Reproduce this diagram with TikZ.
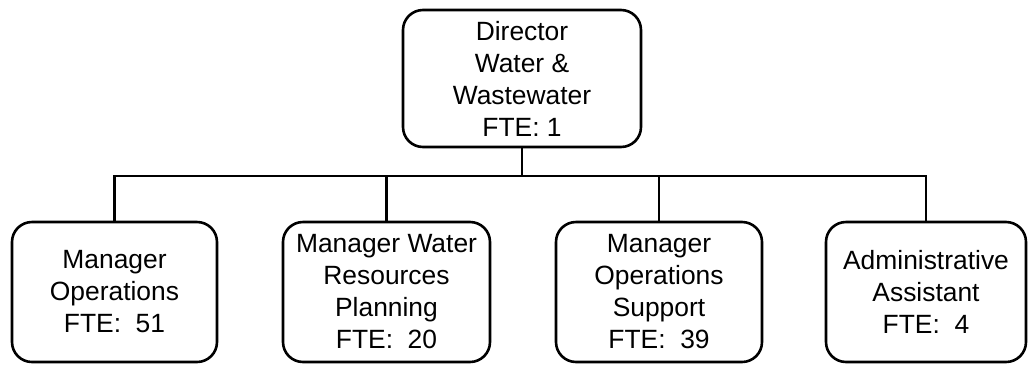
\documentclass[tikz,border=0pt]{standalone}
\usepackage{fontspec}
\setmainfont{Liberation Sans}
\begin{document}
\begin{tikzpicture}[x=1pt,y=-1pt,
  orgbox/.style={draw=black, line width=2.6pt, rounded corners=20pt, align=center,
    font=\fontsize{26.4}{32}\selectfont, inner sep=0pt, minimum height=140pt},
  conn/.style={draw=black, line width=2.6pt}]
\useasboundingbox (0,0) rectangle (1028,365);
\node[orgbox, minimum width=238pt, minimum height=137pt] (dir) at (522,78.5) {Director\\Water \&\\Wastewater\\FTE: 1};
\node[orgbox, minimum width=205pt] (b1) at (114.5,292) {Manager\\Operations\\FTE:\ \ 51};
\node[orgbox, minimum width=207pt] (b2) at (386.5,292) {Manager Water\\Resources\\Planning\\FTE:\ \ 20};
\node[orgbox, minimum width=206pt] (b3) at (659,292) {Manager\\Operations\\Support\\FTE:\ \ 39};
\node[orgbox, minimum width=200pt] (b4) at (926,292) {Administrative\\Assistant\\FTE:\ \ 4};
\coordinate (bus) at (0,176);
\draw[conn] (dir.south) -- (dir.south |- bus);
\draw[conn] (b1.north) -- (b1.north |- bus) -- (b4.north |- bus) -- (b4.north);
\draw[conn] (b2.north) -- (b2.north |- bus);
\draw[conn] (b3.north) -- (b3.north |- bus);
\end{tikzpicture}
\end{document}
